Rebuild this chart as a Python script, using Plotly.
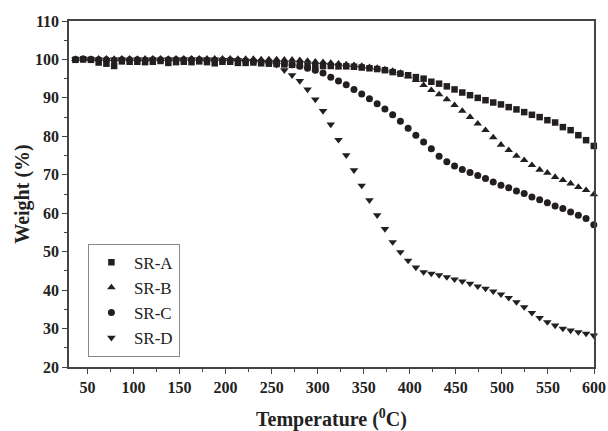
import plotly.graph_objects as go

temperature = [37.0, 45.4, 53.8, 62.2, 70.6, 79.0, 87.4, 95.8, 104.2, 112.6,
               121.0, 129.4, 137.8, 146.2, 154.6, 163.0, 171.4, 179.8, 188.2, 196.6,
               205.0, 213.4, 221.8, 230.2, 238.6, 247.0, 255.4, 263.8, 272.2, 280.6,
               289.0, 297.4, 305.8, 314.2, 322.6, 331.0, 339.4, 347.8, 356.2, 364.6,
               373.0, 381.4, 389.8, 398.2, 406.6, 415.0, 423.4, 431.8, 440.2, 448.6,
               457.0, 465.4, 473.8, 482.2, 490.6, 499.0, 507.4, 515.8, 524.2, 532.6,
               541.0, 549.4, 557.8, 566.2, 574.6, 583.0, 591.4, 599.8]

sr_a = [99.9, 100.0, 99.9, 99.2, 98.9, 98.3, 99.5, 99.4, 99.4, 99.3,
        99.4, 99.6, 99.1, 99.3, 99.4, 99.3, 99.5, 99.3, 99.0, 99.4,
        99.4, 99.1, 99.1, 99.2, 99.0, 98.9, 98.8, 98.7, 98.6, 98.5,
        98.4, 98.3, 98.3, 98.3, 98.2, 98.2, 98.1, 97.9, 97.7, 97.5,
        97.2, 96.7, 96.3, 95.9, 95.4, 95.0, 94.2, 93.7, 93.0, 92.2,
        91.4, 90.7, 90.0, 89.4, 88.8, 88.3, 87.6, 87.0, 86.3, 85.6,
        85.0, 84.2, 83.6, 82.4, 81.6, 80.3, 79.0, 77.5]

sr_b = [100.1, 100.2, 100.1, 100.2, 100.2, 100.1, 100.2, 100.2, 100.1, 100.2,
        100.2, 100.2, 100.1, 100.2, 100.2, 100.2, 100.2, 100.2, 100.2, 100.2,
        100.2, 100.1, 100.1, 100.1, 100.0, 100.0, 100.0, 99.9, 99.9, 99.8,
        99.6, 99.4, 99.3, 99.1, 98.9, 98.7, 98.5, 98.3, 98.0, 97.8,
        97.4, 97.0, 96.5, 95.6, 94.6, 93.3, 92.0, 90.9, 89.6, 88.1,
        86.6, 85.0, 83.3, 81.6, 79.7, 77.8, 76.4, 74.9, 73.8, 72.5,
        71.3, 70.5, 69.4, 68.6, 67.7, 66.8, 66.0, 64.9]

sr_c = [100.0, 100.1, 100.0, 99.9, 99.9, 99.8, 99.9, 99.9, 99.9, 99.8,
        99.9, 99.9, 99.9, 99.9, 99.9, 99.9, 99.9, 99.8, 99.8, 99.8,
        99.8, 99.7, 99.6, 99.5, 99.4, 99.3, 99.1, 98.9, 98.6, 98.2,
        97.7, 97.2, 96.5, 95.4, 94.4, 93.4, 92.2, 91.0, 89.8, 88.5,
        87.1, 85.6, 83.9, 82.1, 80.3, 78.5, 76.8, 74.8, 73.4, 72.3,
        71.4, 70.6, 69.8, 69.0, 68.1, 67.3, 66.6, 65.8, 65.1, 64.2,
        63.5, 62.7, 61.9, 61.2, 60.3, 59.5, 58.6, 57.0]

sr_d = [100.0, 100.1, 100.0, 100.0, 99.9, 100.0, 100.0, 99.9, 100.0, 100.0,
        100.0, 99.9, 100.0, 100.0, 100.0, 100.0, 100.0, 100.0, 100.0, 99.9,
        99.9, 99.8, 99.7, 99.5, 99.3, 99.0, 98.6, 97.2, 95.9, 94.4,
        92.2, 89.6, 86.6, 83.1, 79.1, 75.1, 71.2, 67.2, 63.4, 59.5,
        55.9, 52.5, 49.9, 47.7, 45.9, 44.7, 44.3, 43.9, 43.4, 42.8,
        42.3, 41.7, 41.0, 40.4, 39.7, 38.9, 38.0, 36.9, 35.6, 34.1,
        32.8, 31.7, 30.8, 30.0, 29.5, 29.1, 28.7, 28.2]

series_names = ["SR-A", "SR-B", "SR-C", "SR-D"]
x_ticks = [50, 100, 150, 200, 250, 300, 350, 400, 450, 500, 550, 600]
y_ticks = [20, 30, 40, 50, 60, 70, 80, 90, 100, 110]

ink = "#231f20"
serif = "Liberation Serif, Times New Roman, serif"

styles = {
    "SR-A": dict(symbol="square", size=6.5),
    "SR-B": dict(symbol="triangle-up", size=7.5),
    "SR-C": dict(symbol="circle", size=7),
    "SR-D": dict(symbol="triangle-down", size=7.5),
}
values = {"SR-A": sr_a, "SR-B": sr_b, "SR-C": sr_c, "SR-D": sr_d}

fig = go.Figure()
for name in series_names:
    st = styles[name]
    fig.add_trace(go.Scatter(
        x=temperature, y=values[name], mode="markers", name=name,
        marker=dict(symbol=st["symbol"], size=st["size"], color=ink,
                    line=dict(width=0)),
        cliponaxis=False,
    ))

axis_common = dict(
    showline=True, linecolor="#444", linewidth=1.5, mirror=True,
    showgrid=False, zeroline=False,
    ticks="outside", ticklen=5, tickwidth=1.2, tickcolor="#444",
    tickfont=dict(family=serif, size=16, color="#222", weight="bold"),
    automargin=False,
)

fig.update_layout(
    width=608, height=431,
    margin=dict(l=69, r=14, t=21, b=64),
    paper_bgcolor="white", plot_bgcolor="white",
    showlegend=True,
    legend=dict(
        x=0.036, y=0.356, xanchor="left", yanchor="top",
        bordercolor="#888", borderwidth=1, bgcolor="white",
        font=dict(family=serif, size=17, color="#222"),
        tracegroupgap=0, itemsizing="trace", itemwidth=35,
    ),
    xaxis=dict(
        range=[30, 600], tickvals=x_ticks,
        minor=dict(ticks="outside", ticklen=3, dtick=25, tick0=25,
                   tickcolor="#444", tickwidth=1),
        title=dict(text="Temperature (<sup>0</sup>C)", standoff=19,
                   font=dict(family=serif, size=20, color="#222", weight="bold")),
        **axis_common,
    ),
    yaxis=dict(
        range=[20, 110], tickvals=y_ticks,
        minor=dict(ticks="outside", ticklen=3, dtick=5, tick0=5,
                   tickcolor="#444", tickwidth=1),
        title=dict(text="Weight (%)", standoff=0,
                   font=dict(family=serif, size=20, color="#222", weight="bold")),
        **axis_common,
    ),
)

fig.write_html("out.html")
